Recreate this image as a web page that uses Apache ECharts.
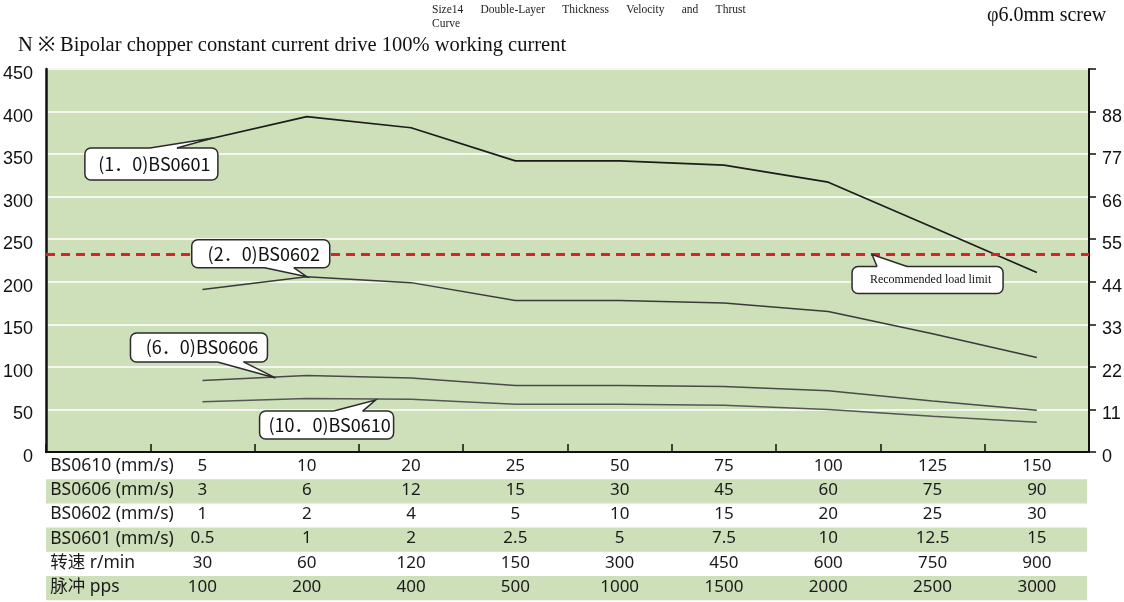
<!DOCTYPE html>
<html>
<head>
<meta charset="utf-8">
<script src="https://cdn.jsdelivr.net/npm/echarts@6/dist/echarts.min.js"></script>
<style>
  html, body { margin: 0; padding: 0; background: #fff; }
  #chart { width: 1124px; height: 602px; }
</style>
</head>
<body>
<div id="chart"></div>
<script>
// table rows under the plot (one value per column)
const rowNames = ['BS0610 (mm/s)', 'BS0606 (mm/s)', 'BS0602 (mm/s)', 'BS0601 (mm/s)', '转速 r/min', '脉冲 pps']
const speed0610 = [5, 10, 20, 25, 50, 75, 100, 125, 150]
const speed0606 = [3, 6, 12, 15, 30, 45, 60, 75, 90]
const speed0602 = [1, 2, 4, 5, 10, 15, 20, 25, 30]
const speed0601 = [0.5, 1, 2, 2.5, 5, 7.5, 10, 12.5, 15]
const rpm = [30, 60, 120, 150, 300, 450, 600, 750, 900]
const pps = [100, 200, 400, 500, 1000, 1500, 2000, 2500, 3000]
const tableRows = [speed0610, speed0606, speed0602, speed0601, rpm, pps]

// thrust (N)
const thrust0601 = [366, 394, 381, 342, 342, 337, 317, 264, 211]
const thrust0602 = [191, 206, 199, 178, 178, 175, 165, 139, 111]
const thrust0606 = [84, 90, 87, 78, 78, 77, 72, 60, 49]
const thrust0610 = [59, 63, 62, 56, 56, 55, 50, 42, 35]
const loadLimit = 232

// axes
const leftMax = 450
const leftStep = 50
const rightMax = 99
const rightStep = 11

const GREEN = '#cde0b9'
const tableFont = '"Noto Sans", "Noto Sans CJK SC", sans-serif'
const axisFont = '"Liberation Sans", Arial, sans-serif'
const rowH = 24.2
const gridL = 46
const gridR = 35
const gridT = 69
const gridH = 383

const chart = echarts.init(document.getElementById('chart'))

const xAxes = tableRows.map((row, i) => ({
  type: 'category',
  gridIndex: 0,
  position: 'bottom',
  offset: i * rowH,
  boundaryGap: true,
  data: [rowNames[i]].concat(row.map(String)),
  z: 5,
  axisLine: { show: i === 0, lineStyle: { color: '#111', width: 2 } },
  axisTick: { show: i === 0, inside: true, length: 8, interval: 0, lineStyle: { color: '#111', width: 1.5 } },
  splitLine: { show: false },
  axisLabel: {
    interval: 0,
    margin: 4,
    color: '#1a1a1a',
    fontSize: 17,
    lineHeight: 20,
    fontFamily: tableFont,
    formatter: (v, idx) => (idx === 0 ? '{h|' + v + '}' : v),
    rich: {
      h: { width: 96, align: 'left', fontSize: 17.5, lineHeight: 20, fontFamily: tableFont, color: '#1a1a1a' }
    }
  }
}))

function lineSeries(name, data, color, width) {
  return {
    name,
    type: 'line',
    xAxisIndex: 0,
    yAxisIndex: 0,
    data: ['-'].concat(data),
    symbol: 'none',
    smooth: false,
    z: 3,
    lineStyle: { color, width },
    emphasis: { disabled: true }
  }
}

const s0601 = lineSeries('BS0601', thrust0601, '#1c1c1c', 1.7)
s0601.markLine = {
  silent: true,
  symbol: 'none',
  label: { show: false },
  lineStyle: { color: '#d8232a', width: 3, type: [9, 6] },
  data: [{ yAxis: loadLimit }]
}

// y labels in the source sit a few px below their grid lines
const yLabel = { fontSize: 18, color: '#111', fontFamily: axisFont, verticalAlign: 'top', lineHeight: 10 }

chart.setOption({
  animation: false,
  grid: {
    left: gridL, right: gridR, top: gridT, height: gridH,
    show: true, backgroundColor: GREEN, borderWidth: 0,
    outerBoundsMode: 'none'
  },
  xAxis: xAxes,
  yAxis: [
    {
      type: 'value', position: 'left', min: 0, max: leftMax, interval: leftStep,
      axisLine: { show: true, lineStyle: { color: '#111', width: 2.5 } },
      axisTick: { show: false },
      axisLabel: Object.assign({ margin: 13 }, yLabel),
      splitLine: { show: true, lineStyle: { color: '#f3f7ee', width: 1.8 } }
    },
    {
      type: 'value', position: 'right', min: 0, max: rightMax, interval: rightStep,
      axisLine: { show: true, lineStyle: { color: '#111', width: 2 } },
      axisTick: { show: true, length: 7, lineStyle: { color: '#111', width: 1.5 } },
      axisLabel: Object.assign({ margin: 13, formatter: v => (v === rightMax ? '' : v) }, yLabel),
      splitLine: { show: false }
    }
  ],
  series: [
    s0601,
    lineSeries('BS0602', thrust0602, '#3a3a3a', 1.5),
    lineSeries('BS0606', thrust0606, '#4a4a4a', 1.5),
    lineSeries('BS0610', thrust0610, '#555555', 1.5)
  ]
})

// pixel point for a (possibly fractional) category index and a thrust value
function px(xi, v) {
  const i0 = Math.floor(xi)
  const a = chart.convertToPixel({ xAxisIndex: 0, yAxisIndex: 0 }, [i0, v])
  const b = chart.convertToPixel({ xAxisIndex: 0, yAxisIndex: 0 }, [i0 + 1, v])
  return [a[0] + (xi - i0) * (b[0] - a[0]), a[1]]
}

function callout(tip, box, base, side, text, font) {
  const bx = tip[0] + box[0]
  const by = tip[1] + box[1]
  const w = box[2]
  const h = box[3]
  const ey = side === 'top' ? by : by + h
  const inset = side === 'top' ? 2 : -2
  const p1 = [bx + base[0], ey]
  const p2 = [bx + base[1], ey]
  return [
    { type: 'rect', z: 100, shape: { x: bx, y: by, width: w, height: h, r: 6 },
      style: { fill: '#fff', stroke: '#2b2b2b', lineWidth: 1.5 } },
    { type: 'polygon', z: 101, shape: { points: [[p1[0], ey + inset], p1, tip, p2, [p2[0], ey + inset]] },
      style: { fill: '#fff' } },
    { type: 'polyline', z: 102, shape: { points: [p1, tip, p2] },
      style: { stroke: '#2b2b2b', lineWidth: 1.5, fill: 'none' } },
    { type: 'text', z: 103, x: bx + w / 2 + 3, y: by + h / 2,
      style: { text, font, fill: '#111', align: 'center', verticalAlign: 'middle', textAlign: 'center', textVerticalAlign: 'middle' } }
  ]
}

const calloutFont = '18px "Noto Sans CJK SC", sans-serif'
const serif = '"Liberation Serif", "Times New Roman", serif'

const graphics = []

// green bands behind every other table row
tableRows.forEach((row, i) => {
  if (i % 2 === 1) {
    graphics.push({
      type: 'rect', z: 0,
      shape: { x: gridL, y: gridT + gridH + i * rowH + 3, width: 1124 - gridL - gridR - 2, height: rowH },
      style: { fill: GREEN }
    })
  }
})

graphics.push(
  ...callout(px(1.1, 369), [-128, 10, 133, 32], [65, 92], 'top', '(1．0)BS0601', calloutFont),
  ...callout(px(2, 206), [-115, -37, 138, 28], [73, 102], 'bottom', '(2．0)BS0602', calloutFont),
  ...callout(px(1.7, 87), [-145, -45, 137, 29], [87, 113], 'bottom', '(6．0)BS0606', calloutFont),
  ...callout(px(2.66, 61), [-116, 11, 134, 28], [74, 103], 'top', '(10．0)BS0610', calloutFont),
  ...callout(px(7.42, loadLimit), [-20, 12, 151, 27], [25, 55], 'top', 'Recommended load limit', '12px ' + serif)
)

// header texts
graphics.push(
  { type: 'text', x: 432, y: 4, style: { text: 'Size14      Double-Layer      Thickness      Velocity      and      Thrust', font: '11.5px ' + serif, fill: '#222' } },
  { type: 'text', x: 432, y: 18, style: { text: 'Curve', font: '11.5px ' + serif, fill: '#222' } },
  { type: 'text', x: 987, y: 6, style: { text: 'φ6.0mm screw', font: '20px ' + serif, fill: '#111' } },
  { type: 'text', x: 18, y: 35, style: { text: 'N ※ Bipolar chopper constant current drive 100% working current', font: '20.5px ' + serif, fill: '#111' } }
)

chart.setOption({ graphic: graphics })
</script>
</body>
</html>
